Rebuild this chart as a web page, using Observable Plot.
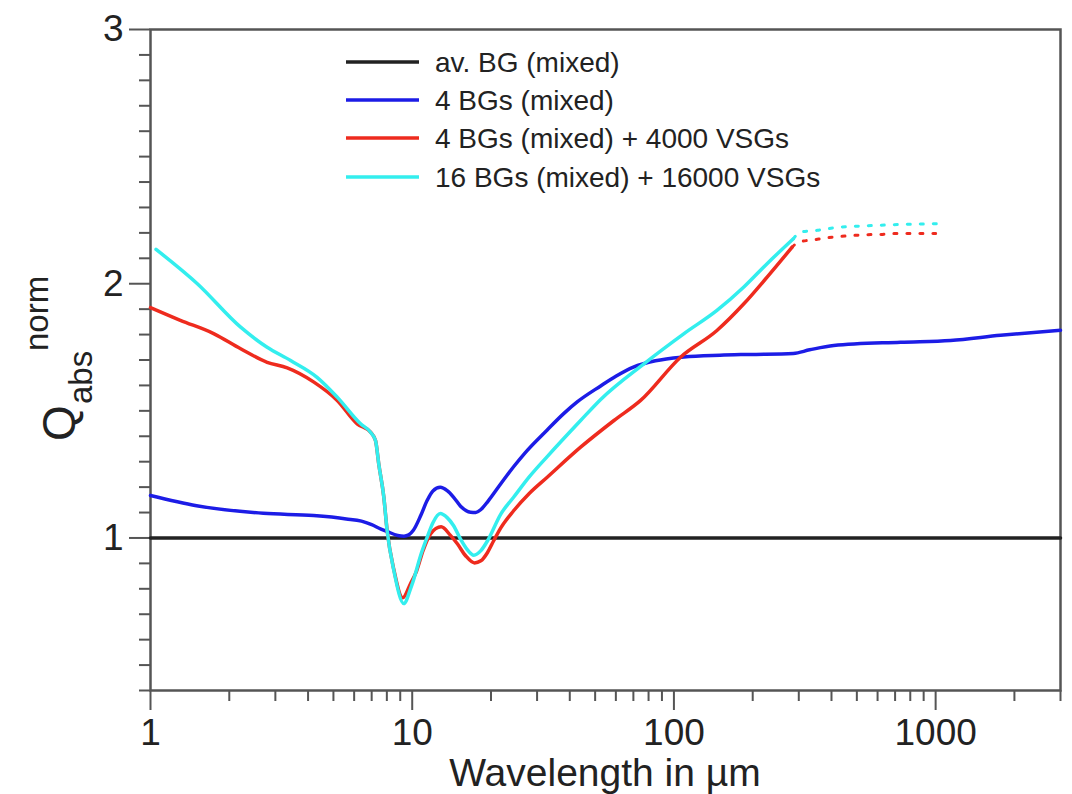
<!DOCTYPE html>
<html>
<head>
<meta charset="utf-8">
<script src="https://cdn.jsdelivr.net/npm/d3@7"></script>
<script src="https://cdn.jsdelivr.net/npm/@observablehq/plot@0.6"></script>
<style>
  html, body { margin: 0; padding: 0; background: #fff; }
  #chart { position: relative; width: 1072px; height: 794px; }
</style>
</head>
<body>
<div id="chart"></div>
<script>
// ---- data ----
const seriesNames = ["av. BG (mixed)", "4 BGs (mixed)", "4 BGs (mixed) + 4000 VSGs", "16 BGs (mixed) + 16000 VSGs"];
const seriesColors = ["#222222", "#1c1ce6", "#ee2b1e", "#33eeee"];

const avgWl = [1, 3000];
const avgQ  = [1, 1];

const blueWl = [1, 1.5, 2.7, 4.2, 5.6, 6.4, 7.0, 7.6, 8.0, 8.8, 9.3, 9.7, 10.1, 10.8, 11.4, 12.0, 12.8, 13.6, 14.4, 15.3, 16.7, 17.5, 18.3, 19.5, 21.8, 24.4, 27, 32.8, 38, 42.7, 52.5, 60, 70, 85, 109, 150, 196, 286, 330, 408, 734, 1140, 1770, 3000];
const blueQ  = [1.167, 1.127, 1.097, 1.088, 1.075, 1.066, 1.052, 1.035, 1.026, 1.010, 1.007, 1.012, 1.030, 1.090, 1.147, 1.185, 1.199, 1.186, 1.160, 1.125, 1.101, 1.100, 1.112, 1.145, 1.213, 1.280, 1.335, 1.425, 1.490, 1.535, 1.598, 1.636, 1.672, 1.697, 1.712, 1.719, 1.722, 1.726, 1.740, 1.757, 1.770, 1.777, 1.797, 1.817];

const redWl = [1, 1.3, 1.75, 2.21, 2.79, 3.33, 4.21, 5.17, 6.16, 6.93, 7.24, 7.45, 7.79, 8.02, 8.51, 9.2, 9.85, 10.4, 11.0, 11.75, 12.9, 14.0, 14.9, 16.0, 17.3, 18.3, 19.4, 20.5, 21.8, 24.4, 28, 32.8, 44, 59, 74.6, 106, 146, 185, 227, 283];
const redQ  = [1.906, 1.856, 1.803, 1.744, 1.691, 1.669, 1.613, 1.541, 1.449, 1.416, 1.383, 1.291, 1.160, 1.029, 0.875, 0.765, 0.820, 0.871, 0.950, 1.016, 1.044, 1.010, 0.976, 0.930, 0.902, 0.910, 0.943, 0.990, 1.040, 1.107, 1.175, 1.239, 1.357, 1.462, 1.541, 1.711, 1.816, 1.921, 2.026, 2.144];
const redExtWl = [283, 300, 343, 385, 433, 487, 548, 616, 673, 1000];
const redExtQ  = [2.144, 2.164, 2.173, 2.181, 2.186, 2.190, 2.193, 2.194, 2.197, 2.198];

const cyanWl = [1.05, 1.51, 2.21, 2.79, 3.43, 4.33, 5.17, 6.35, 6.93, 7.24, 7.45, 7.79, 8.02, 8.51, 9.29, 9.85, 10.1, 10.76, 11.4, 12.0, 12.8, 13.6, 14.4, 15.3, 16.2, 17.2, 18.3, 19.4, 21.8, 24.4, 28, 32.8, 44, 52.5, 76.8, 109, 146, 185, 227, 286];
const cyanQ  = [2.135, 2.000, 1.829, 1.750, 1.698, 1.632, 1.554, 1.449, 1.416, 1.383, 1.291, 1.160, 1.029, 0.871, 0.742, 0.800, 0.832, 0.930, 1.002, 1.060, 1.096, 1.080, 1.048, 0.995, 0.955, 0.932, 0.950, 0.989, 1.094, 1.160, 1.240, 1.320, 1.462, 1.545, 1.685, 1.803, 1.895, 1.987, 2.079, 2.177];
const cyanExtWl = [286, 305, 353, 408, 548, 734, 1014];
const cyanExtQ  = [2.177, 2.203, 2.210, 2.220, 2.228, 2.233, 2.236];

const xMajorTicks = [1, 10, 100, 1000];
const xMinorTicks = [2,3,4,5,6,7,8,9,20,30,40,50,60,70,80,90,200,300,400,500,600,700,800,900,2000,3000];
const yMajorTicks = [1, 2, 3];
const yMinorTicks = [0.4,0.5,0.6,0.7,0.8,0.9,1.1,1.2,1.3,1.4,1.5,1.6,1.7,1.8,1.9,2.1,2.2,2.3,2.4,2.5,2.6,2.7,2.8,2.9];

const xLabel = "Wavelength in µm";

// ---- build tables ----
const toRows = (wl, q) => wl.map((w, i) => ({wl: w, q: q[i]}));
const avgRows = toRows(avgWl, avgQ);
const blueRows = toRows(blueWl, blueQ);
const redRows = toRows(redWl, redQ);
const cyanRows = toRows(cyanWl, cyanQ);
const redExtRows = toRows(redExtWl, redExtQ);
const cyanExtRows = toRows(cyanExtWl, cyanExtQ);

const font = "'Liberation Sans', Arial, Helvetica, sans-serif";
const axisGray = "#555";
const textColor = "#222";

const chart = Plot.plot({
  width: 1072,
  height: 794,
  marginLeft: 150,
  marginRight: 12,
  marginTop: 29,
  marginBottom: 104,
  style: {fontFamily: font, background: "white", color: textColor},
  x: {type: "log", domain: [1, 3000]},
  y: {domain: [0.4, 3]},
  marks: [
    Plot.axisX({ticks: xMinorTicks, tickSize: 11, tickFormat: () => "", label: null, stroke: axisGray, strokeWidth: 2}),
    Plot.axisX({ticks: xMajorTicks, tickSize: 20, tickPadding: 8, fontSize: 37, tickFormat: d => String(d), label: null, stroke: axisGray, strokeWidth: 2, fill: textColor}),
    Plot.axisY({ticks: yMinorTicks, tickSize: 11, tickFormat: () => "", label: null, stroke: axisGray, strokeWidth: 2}),
    Plot.axisY({ticks: yMajorTicks, tickSize: 21, tickPadding: 6, fontSize: 37, tickFormat: d => String(d), label: null, stroke: axisGray, strokeWidth: 2, fill: textColor}),
    Plot.frame({stroke: axisGray, strokeWidth: 2.5}),
    Plot.line(avgRows, {x: "wl", y: "q", stroke: seriesColors[0], strokeWidth: 3.5}),
    Plot.line(blueRows, {x: "wl", y: "q", stroke: seriesColors[1], strokeWidth: 3.5, curve: "monotone-x"}),
    Plot.line(redRows, {x: "wl", y: "q", stroke: seriesColors[2], strokeWidth: 3.5, curve: "monotone-x"}),
    Plot.line(cyanRows, {x: "wl", y: "q", stroke: seriesColors[3], strokeWidth: 3.5, curve: "monotone-x"}),
    Plot.line(redExtRows, {x: "wl", y: "q", stroke: seriesColors[2], strokeWidth: 3, strokeDasharray: "3,10", curve: "monotone-x"}),
    Plot.line(cyanExtRows, {x: "wl", y: "q", stroke: seriesColors[3], strokeWidth: 3, strokeDasharray: "3,10", curve: "monotone-x"})
  ]
});

document.getElementById("chart").appendChild(chart);

// ---- extra text: x title, y title, legend ----
const svg = d3.select(chart);

svg.append("text")
  .attr("x", 605).attr("y", 786)
  .attr("text-anchor", "middle")
  .attr("font-family", font).attr("font-size", 39)
  .attr("fill", textColor)
  .text(xLabel);

const yt = svg.append("g").attr("font-family", font).attr("fill", textColor).attr("text-anchor", "start");
yt.append("text").attr("transform", "translate(75,441) rotate(-90)").attr("font-size", 46).text("Q");
yt.append("text").attr("transform", "translate(92,404) rotate(-90)").attr("font-size", 33).text("abs");
yt.append("text").attr("transform", "translate(48,351) rotate(-90)").attr("font-size", 33).text("norm");

const legendY = [62, 100, 138, 177];
const lg = svg.append("g").attr("font-family", font).attr("font-size", 28).attr("fill", textColor).attr("text-anchor", "start");
seriesNames.forEach((name, i) => {
  lg.append("line")
    .attr("x1", 346).attr("x2", 419)
    .attr("y1", legendY[i]).attr("y2", legendY[i])
    .attr("stroke", seriesColors[i]).attr("stroke-width", 3.5);
  lg.append("text")
    .attr("x", 435).attr("y", legendY[i]).attr("dy", "0.35em")
    .text(name);
});
</script>
</body>
</html>
